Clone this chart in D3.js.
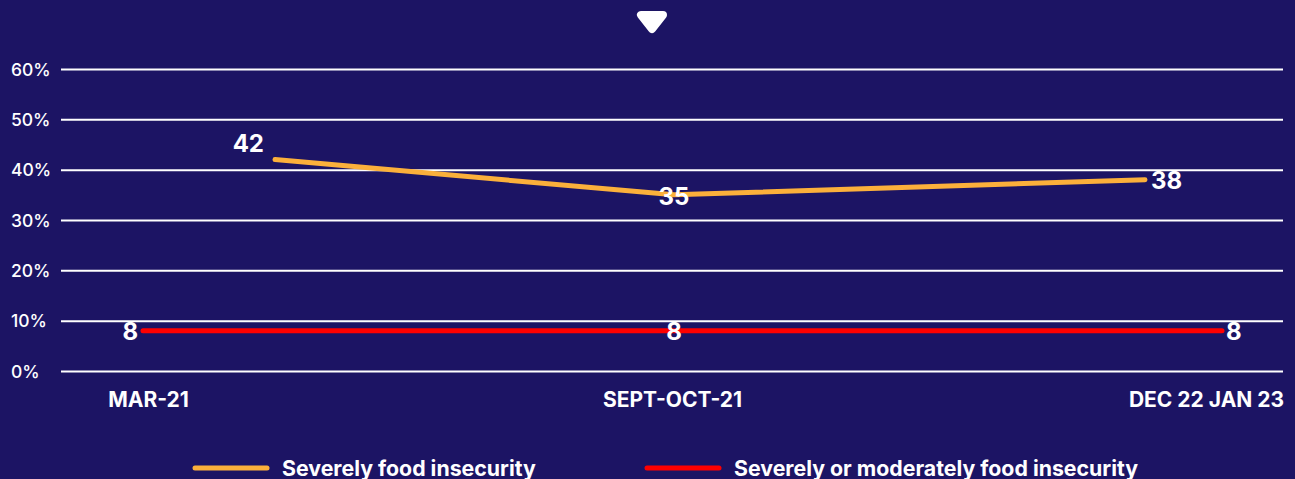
<!DOCTYPE html>
<html>
<head>
<meta charset="utf-8">
<script src="https://cdn.jsdelivr.net/npm/d3@7"></script>
<style>
  html, body { margin: 0; padding: 0; background: #1c1464; }
  svg { display: block; }
  text { font-family: "Inter", "Open Sans", "Lato", sans-serif; fill: #ffffff; }
</style>
</head>
<body>
<svg id="chart" width="1295" height="479"></svg>
<script>
// Survey rounds and food insecurity shares (%)
const periods = ["MAR-21", "SEPT-OCT-21", "DEC 22 JAN 23"];
const severe = [42, 35, 38];
const severeOrModerate = [8, 8, 8];
const yTicks = [0, 10, 20, 30, 40, 50, 60];
const seriesNames = ["Severely food insecurity", "Severely or moderately food insecurity"];
const seriesColors = ["#fbb03b", "#ff0000"];

const plot = { left: 61, right: 1283, top: 69, bottom: 371 };

const svg = d3.select("#chart");

const y = d3.scaleLinear().domain([0, 60]).range([plot.bottom, plot.top]);
const idx = periods.map((p, i) => i);
// Piecewise horizontal scales: category labels and each series have their own spread
const xCat = d3.scaleLinear().domain(idx).range([148, 672, 1206]);
const xSevere = d3.scaleLinear().domain(idx).range([275, 674, 1145]);
const xModerate = d3.scaleLinear().domain(idx).range([143, 674, 1222]);

// Gridlines and y tick labels
const yAxis = svg.append("g")
  .attr("transform", `translate(${plot.left},0)`)
  .call(d3.axisLeft(y).tickValues(yTicks).tickFormat(d => d + "%")
    .tickSize(-(plot.right - plot.left)).tickPadding(0));
yAxis.select(".domain").remove();
yAxis.selectAll(".tick line").attr("stroke", "#ffffff").attr("stroke-width", 2);
yAxis.selectAll(".tick text")
  .attr("x", 11 - plot.left).attr("text-anchor", "start")
  .attr("dy", "0.35em")
  .style("font-size", "17.5px").style("font-weight", 500);

// Category labels
const xAxis = svg.append("g")
  .attr("transform", `translate(0,${plot.bottom})`)
  .call(d3.axisBottom(xCat).tickValues(idx).tickFormat(i => periods[i])
    .tickSize(0).tickPadding(21));
xAxis.select(".domain").remove();
xAxis.selectAll(".tick text")
  .style("font-size", "21px").style("font-weight", 700);

// Series
const series = [
  { name: seriesNames[0], values: severe, color: seriesColors[0], x: xSevere, width: 5,
    label: [{ anchor: "end", dx: -11, dy: -8, base: "auto" },
            { anchor: "middle", dx: 0, dy: 2, base: "central" },
            { anchor: "start", dx: 6, dy: 1, base: "central" }] },
  { name: seriesNames[1], values: severeOrModerate, color: seriesColors[1], x: xModerate, width: 5,
    label: [{ anchor: "end", dx: -5, dy: 1, base: "central" },
            { anchor: "middle", dx: 0, dy: 1, base: "central" },
            { anchor: "start", dx: 4, dy: 1, base: "central" }] }
];

series.forEach(s => {
  s.pts = periods.map((p, i) => ({ p, v: s.values[i], i }));
  svg.append("path")
    .datum(s.pts)
    .attr("fill", "none")
    .attr("stroke", s.color)
    .attr("stroke-width", s.width)
    .attr("stroke-linecap", "round")
    .attr("stroke-linejoin", "round")
    .attr("d", d3.line().x(d => s.x(d.i)).y(d => y(d.v)));
});

series.forEach(s => {
  svg.append("g").selectAll("text")
    .data(s.pts)
    .join("text")
    .attr("x", d => s.x(d.i) + s.label[d.i].dx)
    .attr("y", d => y(d.v) + s.label[d.i].dy)
    .attr("text-anchor", d => s.label[d.i].anchor)
    .attr("dominant-baseline", d => s.label[d.i].base)
    .style("font-size", "24px").style("font-weight", 700)
    .text(d => d.v);
});

// Legend
const legendX = [195, 647];
series.forEach((s, i) => {
  const g = svg.append("g").attr("transform", `translate(${legendX[i]},468)`);
  g.append("line").attr("x1", 0).attr("x2", 72).attr("y1", 0).attr("y2", 0)
    .attr("stroke", s.color).attr("stroke-width", 5).attr("stroke-linecap", "round");
  g.append("text").attr("x", 87).attr("y", 7.5)
    .style("font-size", "21.3px").style("font-weight", 700)
    .text(s.name);
});

// Collapse marker at the top
svg.append("path")
  .attr("d", d3.line().curve(d3.curveLinearClosed)([[641, 15], [663, 15], [652, 29]]))
  .attr("fill", "#ffffff").attr("stroke", "#ffffff")
  .attr("stroke-width", 8).attr("stroke-linejoin", "round");
</script>
</body>
</html>
